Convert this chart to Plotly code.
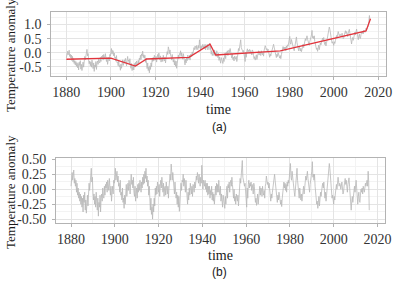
import numpy as np
import plotly.graph_objects as go

# ---------------- data (quarterly, 1880 .. 2016 Q2) ----------------
start_year = 1880
step = 0.25

anomaly = [
    -0.18,-0.11,0.05,-0.08, -0.03,0.09,-0.13,-0.05, -0.18,-0.08,-0.28,-0.13, -0.33,-0.21,-0.38,-0.28,
    -0.43,-0.31,-0.48,-0.35, -0.53,-0.38,-0.61,-0.33, -0.45,-0.28,-0.58,-0.41, -0.63,-0.43,-0.33,-0.51,
    -0.28,-0.13,-0.25,-0.08, -0.01,0.12,-0.11,-0.03,
    -0.26,-0.39,-0.29,-0.46, -0.33,-0.51,-0.26,-0.41, -0.56,-0.36,-0.66,-0.43, -0.51,-0.31,-0.59,-0.36,
    -0.29,-0.41,-0.19,-0.33, -0.36,-0.16,-0.31,-0.13, -0.19,-0.09,-0.26,-0.06, -0.11,-0.23,-0.03,-0.16,
    -0.31,-0.16,-0.41,-0.26, -0.16,-0.29,-0.06,-0.11,
    0.00,0.15,-0.05,0.08, 0.07,-0.11,-0.01,-0.18, -0.15,-0.30,-0.10,-0.35, -0.33,-0.46,-0.26,-0.50,
    -0.45,-0.62,-0.40,-0.55, -0.38,-0.25,-0.45,-0.31, -0.25,-0.37,-0.20,-0.30, -0.46,-0.26,-0.13,-0.30,
    -0.26,-0.39,-0.21,-0.46, -0.55,-0.38,-0.63,-0.51,
    -0.44,-0.61,-0.38,-0.51, -0.34,-0.46,-0.29,-0.39, -0.44,-0.27,-0.37,-0.19, -0.26,-0.09,-0.24,-0.04,
    -0.11,0.06,-0.17,-0.07, -0.19,-0.09,-0.34,-0.19, -0.41,-0.56,-0.36,-0.63, -0.51,-0.71,-0.46,-0.59,
    -0.36,-0.49,-0.19,-0.31, -0.16,-0.29,-0.09,-0.21,
    -0.26,-0.13,-0.33,-0.16, -0.06,-0.19,-0.01,-0.13, -0.26,-0.11,-0.33,-0.19, -0.16,-0.31,-0.09,-0.21,
    -0.29,-0.16,-0.36,-0.19, -0.11,0.04,-0.06,0.21, 0.12,-0.03,0.10,-0.08, -0.13,-0.26,-0.06,-0.20,
    -0.33,-0.23,-0.43,-0.28, -0.48,-0.30,-0.55,-0.38,
    -0.23,-0.08,-0.20,-0.03, -0.06,0.07,-0.13,0.00, -0.10,-0.23,-0.03,-0.16, -0.28,-0.43,-0.23,-0.36,
    -0.16,-0.28,-0.08,-0.23, -0.22,-0.09,-0.26,-0.06, -0.04,-0.14,0.03,-0.07, 0.06,0.18,0.11,0.24,
    0.21,0.11,0.26,0.16, 0.11,0.26,0.16,0.46,
    0.20,0.10,0.25,0.15, 0.20,0.30,0.15,0.25, 0.15,0.30,0.10,0.25, 0.17,0.30,0.10,0.23,
    0.19,0.34,0.11,0.24, -0.05,0.07,-0.10,0.03, 0.05,-0.10,0.10,-0.05, 0.00,-0.13,0.07,-0.08,
    -0.17,-0.02,-0.27,-0.15, -0.22,-0.37,-0.17,-0.29,
    -0.26,-0.38,-0.18,-0.31, -0.11,-0.01,-0.21,0.02, -0.03,0.07,-0.10,0.05, 0.10,0.00,0.15,0.03,
    -0.09,-0.19,-0.04,-0.24, -0.16,-0.29,-0.12,-0.22, -0.23,-0.13,-0.31,-0.18, 0.02,0.15,0.07,0.22,
    0.28,0.46,0.18,0.10, 0.13,0.03,0.08,-0.04,
    -0.06,-0.31,0.01,-0.16, 0.07,0.14,0.01,0.09, 0.05,0.12,-0.02,0.08, 0.02,-0.08,0.10,0.05,
    -0.09,-0.21,-0.14,-0.26, -0.17,-0.07,-0.24,-0.11, -0.03,0.07,-0.08,0.04, 0.02,-0.10,0.07,-0.03,
    -0.07,0.01,-0.12,0.08, 0.13,0.25,0.18,0.11,
    0.15,0.05,0.13,-0.02, -0.08,-0.16,-0.04,-0.11, -0.01,0.09,0.14,0.22, 0.30,0.20,0.13,0.00,
    -0.10,-0.17,-0.05,-0.13, 0.01,-0.06,-0.14,-0.19, -0.10,-0.21,-0.07,0.03, 0.15,0.22,0.12,0.20,
    0.10,0.20,0.07,0.24, 0.18,0.28,0.23,0.41,
    0.50,0.58,0.35,0.30, 0.47,0.35,0.27,0.22, 0.14,0.07,0.21,0.29, 0.46,0.56,0.36,0.26,
    0.17,0.07,0.24,0.12, 0.06,0.16,0.04,0.12, 0.21,0.31,0.18,0.28, 0.38,0.50,0.43,0.53,
    0.60,0.48,0.42,0.35, 0.26,0.39,0.46,0.51,
    0.63,0.79,0.53,0.58, 0.50,0.60,0.40,0.30, 0.22,0.12,0.17,0.05, 0.17,0.27,0.11,0.24,
    0.35,0.28,0.42,0.45, 0.52,0.44,0.54,0.37, 0.29,0.39,0.24,0.34, 0.48,0.56,0.64,0.71,
    0.91,0.83,0.68,0.60, 0.44,0.34,0.39,0.27,
    0.26,0.39,0.33,0.43, 0.55,0.61,0.53,0.63, 0.75,0.67,0.60,0.65, 0.65,0.57,0.67,0.69,
    0.60,0.50,0.53,0.63, 0.72,0.78,0.68,0.75, 0.67,0.57,0.70,0.74, 0.83,0.69,0.54,0.49,
    0.31,0.46,0.54,0.44, 0.60,0.66,0.73,0.63,
    0.81,0.84,0.71,0.59, 0.46,0.59,0.66,0.51, 0.51,0.65,0.73,0.68, 0.77,0.67,0.80,0.75,
    0.72,0.79,0.87,0.82, 0.85,0.90,0.95,1.10, 1.32,1.15,
]

residual = [
    0.05,0.12,0.28,0.15, 0.20,0.32,0.10,0.18, 0.05,0.15,-0.05,0.10, -0.10,0.02,-0.15,-0.05,
    -0.20,-0.08,-0.25,-0.12, -0.30,-0.15,-0.38,-0.10, -0.22,-0.05,-0.35,-0.18, -0.40,-0.20,-0.10,-0.28,
    -0.05,0.10,-0.02,0.15, 0.22,0.35,0.12,0.20,
    -0.05,-0.18,-0.08,-0.25, -0.12,-0.30,-0.05,-0.20, -0.35,-0.15,-0.45,-0.22, -0.30,-0.10,-0.38,-0.15,
    -0.08,-0.20,0.02,-0.12, -0.15,0.05,-0.10,0.08, 0.02,0.12,-0.05,0.15, 0.10,-0.02,0.18,0.05,
    -0.10,0.05,-0.20,-0.05, 0.05,-0.08,0.15,0.10,
    0.20,0.35,0.15,0.28, 0.30,0.12,0.22,0.05, 0.10,-0.05,0.15,-0.10, -0.05,-0.18,0.02,-0.22,
    -0.15,-0.32,-0.10,-0.25, -0.05,0.08,-0.12,0.02, 0.10,-0.02,0.15,0.05, -0.08,0.12,0.25,0.08,
    0.15,0.02,0.20,-0.05, -0.12,0.05,-0.20,-0.08,
    0.02,-0.15,0.08,-0.05, 0.10,-0.02,0.15,0.05, -0.05,0.12,0.02,0.20, 0.08,0.25,0.10,0.30,
    0.18,0.35,0.12,0.22, 0.05,0.15,-0.10,0.05, -0.20,-0.35,-0.15,-0.42, -0.30,-0.50,-0.25,-0.38,
    -0.15,-0.28,0.02,-0.10, 0.05,-0.08,0.12,0.00,
    -0.05,0.08,-0.12,0.05, 0.15,0.02,0.20,0.08, -0.05,0.10,-0.12,0.02, 0.05,-0.10,0.12,0.00,
    -0.08,0.05,-0.15,0.02, 0.10,0.25,0.15,0.42, 0.30,0.15,0.28,0.10, 0.05,-0.08,0.12,-0.02,
    -0.15,-0.05,-0.25,-0.10, -0.30,-0.12,-0.37,-0.20,
    -0.05,0.10,-0.02,0.15, 0.12,0.25,0.05,0.18, 0.08,-0.05,0.15,0.02, -0.10,-0.25,-0.05,-0.18,
    0.02,-0.10,0.10,-0.05, -0.08,0.05,-0.12,0.08, 0.05,-0.05,0.12,0.02, 0.10,0.22,0.15,0.28,
    0.20,0.10,0.25,0.15, 0.05,0.20,0.10,0.40,
    0.10,0.00,0.15,0.05, 0.05,0.15,0.00,0.10, -0.05,0.10,-0.10,0.05, -0.08,0.05,-0.15,-0.02,
    -0.10,0.05,-0.18,-0.05, -0.20,-0.08,-0.25,-0.12, 0.05,-0.10,0.10,-0.05, 0.08,-0.05,0.15,0.00,
    -0.10,0.05,-0.20,-0.08, -0.15,-0.30,-0.10,-0.22,
    -0.20,-0.32,-0.12,-0.25, -0.05,0.05,-0.15,0.08, 0.02,0.12,-0.05,0.10, 0.15,0.05,0.20,0.08,
    -0.05,-0.15,0.00,-0.20, -0.12,-0.25,-0.08,-0.18, -0.20,-0.10,-0.28,-0.15, 0.05,0.18,0.10,0.25,
    0.30,0.48,0.20,0.12, 0.15,0.05,0.10,-0.02,
    -0.05,-0.30,0.02,-0.15, 0.08,0.15,0.02,0.10, 0.05,0.12,-0.02,0.08, 0.02,-0.08,0.10,0.05,
    -0.10,-0.22,-0.15,-0.27, -0.18,-0.08,-0.25,-0.12, -0.05,0.05,-0.10,0.02, 0.00,-0.12,0.05,-0.05,
    -0.10,-0.02,-0.15,0.05, 0.10,0.22,0.15,0.08,
    0.12,0.02,0.10,-0.05, -0.12,-0.20,-0.08,-0.15, -0.05,0.05,0.10,0.18, 0.25,0.15,0.08,-0.05,
    -0.15,-0.22,-0.10,-0.18, -0.05,-0.12,-0.20,-0.25, -0.18,-0.29,-0.15,-0.05, 0.05,0.12,0.02,0.10,
    -0.02,0.08,-0.05,0.12, 0.05,0.15,0.10,0.28,
    0.35,0.43,0.20,0.15, 0.30,0.18,0.10,0.05, -0.05,-0.12,0.02,0.10, 0.25,0.35,0.15,0.05,
    -0.05,-0.15,0.02,-0.10, -0.18,-0.08,-0.20,-0.12, -0.05,0.05,-0.08,0.02, 0.10,0.22,0.15,0.25,
    0.30,0.18,0.12,0.05, -0.05,0.08,0.15,0.20,
    0.30,0.46,0.20,0.25, 0.15,0.25,0.05,-0.05, -0.15,-0.25,-0.20,-0.32, -0.22,-0.12,-0.28,-0.15,
    -0.05,-0.12,0.02,0.05, 0.10,0.02,0.12,-0.05, -0.15,-0.05,-0.20,-0.10, 0.02,0.10,0.18,0.25,
    0.43,0.35,0.20,0.12, -0.05,-0.15,-0.10,-0.22,
    -0.25,-0.12,-0.18,-0.08, 0.02,0.08,0.00,0.10, 0.20,0.12,0.05,0.10, 0.08,0.00,0.10,0.12,
    0.02,-0.08,-0.05,0.05, 0.12,0.18,0.08,0.15, 0.05,-0.05,0.08,0.12, 0.19,0.05,-0.10,-0.15,
    -0.35,-0.20,-0.12,-0.22, -0.08,-0.02,0.05,-0.05,
    0.12,0.15,0.02,-0.10, -0.25,-0.12,-0.05,-0.20, -0.22,-0.08,0.00,-0.05, 0.02,-0.08,0.05,0.00,
    -0.05,0.02,0.10,0.05, 0.08,0.15,0.05,0.30, 0.12,-0.35,
]

# piecewise-linear trend (breakpoints)
trend_years = [1880, 1900, 1911, 1916, 1935, 1944.5, 1947, 1976, 2014.5, 2016.5]
trend_values = [-0.23, -0.19, -0.47, -0.22, -0.16, 0.30, -0.08, 0.07, 0.77, 1.20]

x_ticks = [1880, 1900, 1920, 1940, 1960, 1980, 2000, 2020]
top_y_ticks = [-0.5, 0.0, 0.5, 1.0]
top_y_text = ["-0.5", "0.0", "0.5", "1.0"]
bot_y_ticks = [-0.5, -0.25, 0.0, 0.25, 0.5]
bot_y_text = ["-0.50", "-0.25", "0.00", "0.25", "0.50"]

time_a = start_year + step * np.arange(len(anomaly))
time_r = start_year + step * np.arange(len(residual))

# ---------------- figure ----------------
W, H = 399, 282
GRAY = "#b8b8b8"
RED = "#e2343c"
SERIF = "Liberation Serif"

fig = go.Figure()
fig.add_trace(go.Scatter(x=time_a, y=anomaly, mode="lines",
                         line=dict(color=GRAY, width=0.8), xaxis="x", yaxis="y",
                         showlegend=False, hoverinfo="skip"))
fig.add_trace(go.Scatter(x=trend_years, y=trend_values, mode="lines",
                         line=dict(color=RED, width=1.3), xaxis="x", yaxis="y",
                         showlegend=False, hoverinfo="skip"))
fig.add_trace(go.Scatter(x=time_r, y=residual, mode="lines",
                         line=dict(color=GRAY, width=0.8), xaxis="x2", yaxis="y2",
                         showlegend=False, hoverinfo="skip"))

def px_x(p):
    return p / W

def px_y(p):
    return 1 - p / H

def axis_style(minor_dtick, minor_start, standoff):
    return dict(
        showline=True, mirror=True, linecolor="#b3b3b3", linewidth=1,
        showgrid=True, gridcolor="#e4e4e4", gridwidth=0.6,
        ticks="outside", ticklen=3, tickcolor="#b3b3b3", tickwidth=1,
        ticklabelstandoff=standoff,
        tickfont=dict(family=SERIF, size=14, color="#333333"),
        zeroline=False,
        minor=dict(showgrid=True, gridcolor="#f3f3f3", gridwidth=0.5,
                   dtick=minor_dtick, tick0=minor_start, ticks=""),
    )

xr = [1873.2, 2023.5]
fig.update_layout(
    width=W, height=H,
    margin=dict(l=0, r=0, t=0, b=0),
    paper_bgcolor="white", plot_bgcolor="white",
    xaxis=dict(domain=[px_x(52), px_x(392)], range=xr, anchor="y",
               tickvals=x_ticks, ticktext=[str(v) for v in x_ticks], **axis_style(20, 1870, 0)),
    yaxis=dict(domain=[px_y(72.5), px_y(6)], range=[-0.82, 1.45], anchor="x",
               tickvals=top_y_ticks, ticktext=top_y_text, **axis_style(0.5, -0.75, 3)),
    xaxis2=dict(domain=[px_x(57), px_x(391)], range=xr, anchor="y2",
                tickvals=x_ticks, ticktext=[str(v) for v in x_ticks], **axis_style(20, 1870, 0)),
    yaxis2=dict(domain=[px_y(225), px_y(158)], range=[-0.565, 0.515], anchor="x2",
                tickvals=bot_y_ticks, ticktext=bot_y_text, **axis_style(0.25, -0.375, 3)),
)

ann_font = dict(family=SERIF, size=14, color="#1a1a1a")
annotations = [
    dict(text="time", x=px_x(222), y=px_y(107), xref="paper", yref="paper",
         showarrow=False, xanchor="center", yanchor="middle", font=ann_font),
    dict(text="(a)", x=px_x(223), y=px_y(125), xref="paper", yref="paper",
         showarrow=False, xanchor="center", yanchor="middle",
         font=dict(family="Liberation Sans", size=12, color="#1a1a1a")),
    dict(text="time", x=px_x(224), y=px_y(259), xref="paper", yref="paper",
         showarrow=False, xanchor="center", yanchor="middle", font=ann_font),
    dict(text="(b)", x=px_x(223), y=px_y(276), xref="paper", yref="paper",
         showarrow=False, xanchor="center", yanchor="middle",
         font=dict(family="Liberation Sans", size=12, color="#1a1a1a")),
    dict(text="Temperature anomaly", x=px_x(10), y=px_y(51), xref="paper", yref="paper",
         showarrow=False, xanchor="center", yanchor="middle", textangle=-90,
         font=dict(family=SERIF, size=13, color="#1a1a1a")),
    dict(text="Temperature anomaly", x=px_x(10), y=px_y(193), xref="paper", yref="paper",
         showarrow=False, xanchor="center", yanchor="middle", textangle=-90,
         font=dict(family=SERIF, size=13, color="#1a1a1a")),
]
fig.update_layout(annotations=annotations)

fig.write_html("out.html")
